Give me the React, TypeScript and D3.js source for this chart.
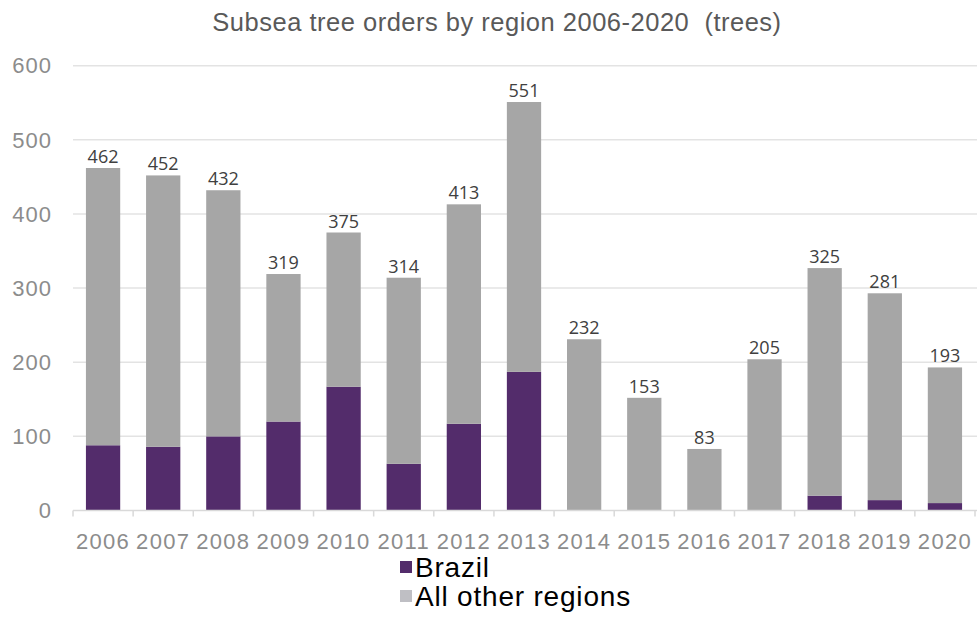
import React from "react";
import * as d3 from "d3";

const years = ["2006","2007","2008","2009","2010","2011","2012","2013","2014","2015","2016","2017","2018","2019","2020"];
const brazil = [88, 86, 100, 120, 167, 63, 117, 187, 0, 0, 0, 0, 20, 14, 10];
const others = [374, 366, 332, 199, 208, 251, 296, 364, 231, 152, 83, 204, 307, 279, 183];
const totalLabels = ["462","452","432","319","375","314","413","551","232","153","83","205","325","281","193"];
const yTicks = [0, 100, 200, 300, 400, 500, 600];
const seriesNames = ["Brazil", "All other regions"];

const W = 980, H = 639;
const left = 73, right = 975, top = 65.7, bottom = 510.5;

export default function App() {
  const x = d3.scaleBand<string>().domain(years).range([left, right]).paddingInner(0.43).paddingOuter(0.215);
  const xb = d3.scaleBand<string>().domain(years).range([left, right]);
  const y = d3.scaleLinear().domain([0, 600]).range([bottom, top]);
  const rows = years.map((yr, i) => ({ year: yr, brazil: brazil[i], others: others[i] }));
  const stacked = d3.stack<any>().keys(["brazil", "others"])(rows);
  const colors = ["#532c6b", "#a6a6a6"];
  const legendColors = ["#532c6b", "#bfbfc4"];
  const font = "'Liberation Sans', Arial, sans-serif";
  return (
    <svg width={W} height={H} style={{ position: "absolute", left: 0, top: 0, background: "#fff" }}>
      <text x={497} y={31} textAnchor="middle" fontFamily={font} fontSize={25.5} letterSpacing={0.5} fill="#595959">
        Subsea tree orders by region 2006-2020{"\u00a0\u00a0"}(trees)
      </text>
      {yTicks.filter(t => t > 0).map(t => (
        <line key={t} x1={left} x2={right + 2} y1={y(t)} y2={y(t)} stroke="#e3e3e3" strokeWidth={1.5} />
      ))}
      {yTicks.map(t => (
        <text key={"yl" + t} x={52} y={y(t)} dy="0.35em" textAnchor="end" fontFamily={font} fontSize={22} letterSpacing={1} fill="#8c8c8c">
          {t}
        </text>
      ))}
      {stacked.map((s, si) => (
        <g key={si}>
          {s.map((d, i) => (
            <rect key={i} x={x(years[i])} width={x.bandwidth()} y={y(d[1])} height={Math.max(0, y(d[0]) - y(d[1]))} fill={colors[si]} />
          ))}
        </g>
      ))}
      <line x1={left} x2={right + 2} y1={bottom} y2={bottom} stroke="#d9d9d9" strokeWidth={1.5} />
      {years.concat(["end"]).map((yr, i) => {
        const xx = i < years.length ? (xb(yr) as number) : right;
        return <line key={"t" + i} x1={xx} x2={xx} y1={bottom} y2={bottom + 6} stroke="#d9d9d9" strokeWidth={1.5} />;
      })}
      {years.map((yr, i) => (
        <text key={"xl" + yr} x={(xb(yr) as number) + xb.bandwidth() / 2} y={541} dy="0.35em" textAnchor="middle" fontFamily={font} fontSize={22} letterSpacing={1.3} fill="#8c8c8c">
          {yr}
        </text>
      ))}
      {years.map((yr, i) => (
        <text key={"dl" + yr} x={(x(yr) as number) + x.bandwidth() / 2} y={y(brazil[i] + others[i]) - 5} textAnchor="middle" fontFamily="'Open Sans', 'Noto Sans', sans-serif" fontSize={18} fill="#404040">
          {totalLabels[i]}
        </text>
      ))}
      {seriesNames.map((n, i) => (
        <g key={n}>
          <rect x={400} y={561 + i * 29} width={12} height={12} fill={legendColors[i]} />
          <text x={415} y={567 + i * 29} dy="0.35em" fontFamily={font} fontSize={28} letterSpacing={0.8} fill="#000">
            {n}
          </text>
        </g>
      ))}
    </svg>
  );
}
